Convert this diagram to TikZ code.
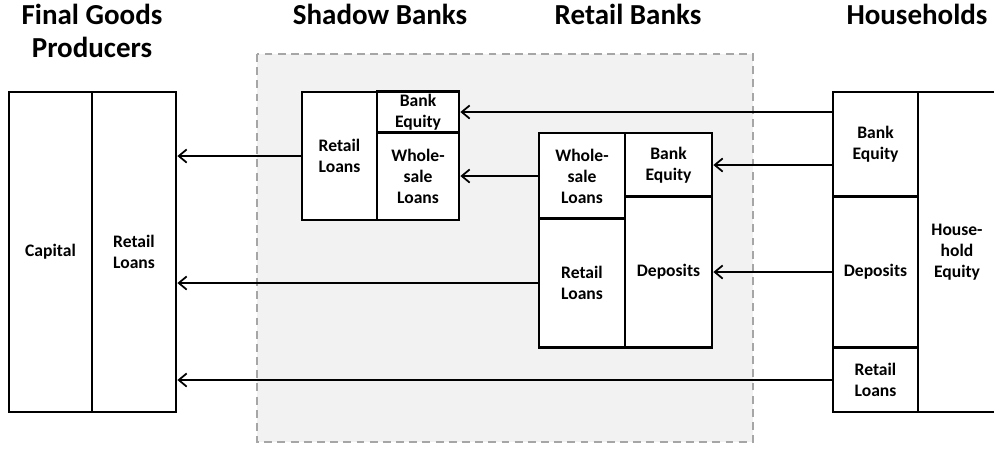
\documentclass[tikz,border=0pt]{standalone}
\usepackage{fontspec}
\setmainfont{Carlito}
\usetikzlibrary{arrows.meta}

\tikzset{
  cell/.style={draw, line width=1.6pt, align=center, inner sep=0pt,
    font=\fontsize{10}{12}\selectfont\bfseries},
  head/.style={align=center, inner sep=0pt,
    font=\fontsize{16.5}{18.7}\selectfont\bfseries},
  flow/.style={->, line width=1pt}
}

\begin{document}
\begin{tikzpicture}[x=0.02cm, y=-0.02cm, >={Straight Barb[length=4.5pt,width=7.5pt]}]

  \useasboundingbox (0,0) rectangle (994,451);

  \draw[fill=black!5, draw=black!35, line width=1.2pt, dash pattern=on 4.5pt off 3pt]
    (257,54) rectangle (753,442);

  \node[head] (fgh) at (92, 31) {Final Goods\\Producers};
  \node[head] (sbh) at (380, 14) {Shadow Banks};
  \node[head] (rbh) at (628, 14) {Retail Banks};
  \node[head] (hhh) at (917, 14) {Households};

  \node[cell, minimum width=1.66cm, minimum height=6.4cm] (fgcap) at (50.5, 252) {Capital};
  \node[cell, minimum width=1.68cm, minimum height=6.4cm] (fgrl) at (134, 252) {Retail\\Loans};

  \node[cell, fill=white, minimum width=1.5cm, minimum height=2.56cm] (sbrl) at (339.5, 156) {Retail\\Loans};
  \node[cell, fill=white, minimum width=1.64cm, minimum height=0.82cm] (sbbe) at (418, 112) {Bank\\Equity};
  \node[cell, fill=white, minimum width=1.64cm, minimum height=1.74cm] (sbwl) at (418, 176.5) {Whole-\\sale\\Loans};

  \node[cell, fill=white, minimum width=1.72cm, minimum height=1.72cm] (rbwl) at (582, 176) {Whole-\\sale\\Loans};
  \node[cell, fill=white, minimum width=1.72cm, minimum height=2.58cm] (rbrl) at (582, 283) {Retail\\Loans};
  \node[cell, fill=white, minimum width=1.74cm, minimum height=1.28cm] (rbbe) at (668.5, 165) {Bank\\Equity};
  \node[cell, fill=white, minimum width=1.74cm, minimum height=3.02cm] (rbdep) at (668.5, 272) {Deposits};

  \node[cell, minimum width=1.7cm, minimum height=2.1cm] (hhbe) at (875.5, 144.5) {Bank\\Equity};
  \node[cell, minimum width=1.7cm, minimum height=3.02cm] (hhdep) at (875.5, 272) {Deposits};
  \node[cell, minimum width=1.7cm, minimum height=1.28cm] (hhrl) at (875.5, 380) {Retail\\Loans};
  \node[cell, minimum width=1.56cm, minimum height=6.4cm] (hheq) at (957, 252) {House-\\hold\\Equity};

  \draw [flow] (hhbe.west |- sbbe) to (sbbe.east);
  \draw [flow] (hhbe.west |- rbbe) to (rbbe.east);
  \draw [flow] (hhdep.west) to (rbdep.east);
  \draw [flow] (hhrl.west) to (fgrl.east |- hhrl);
  \draw [flow] (rbwl.west) to (sbwl.east |- rbwl);
  \draw [flow] (rbrl.west) to (fgrl.east |- rbrl);
  \draw [flow] (sbrl.west) to (fgrl.east |- sbrl);

\end{tikzpicture}
\end{document}
